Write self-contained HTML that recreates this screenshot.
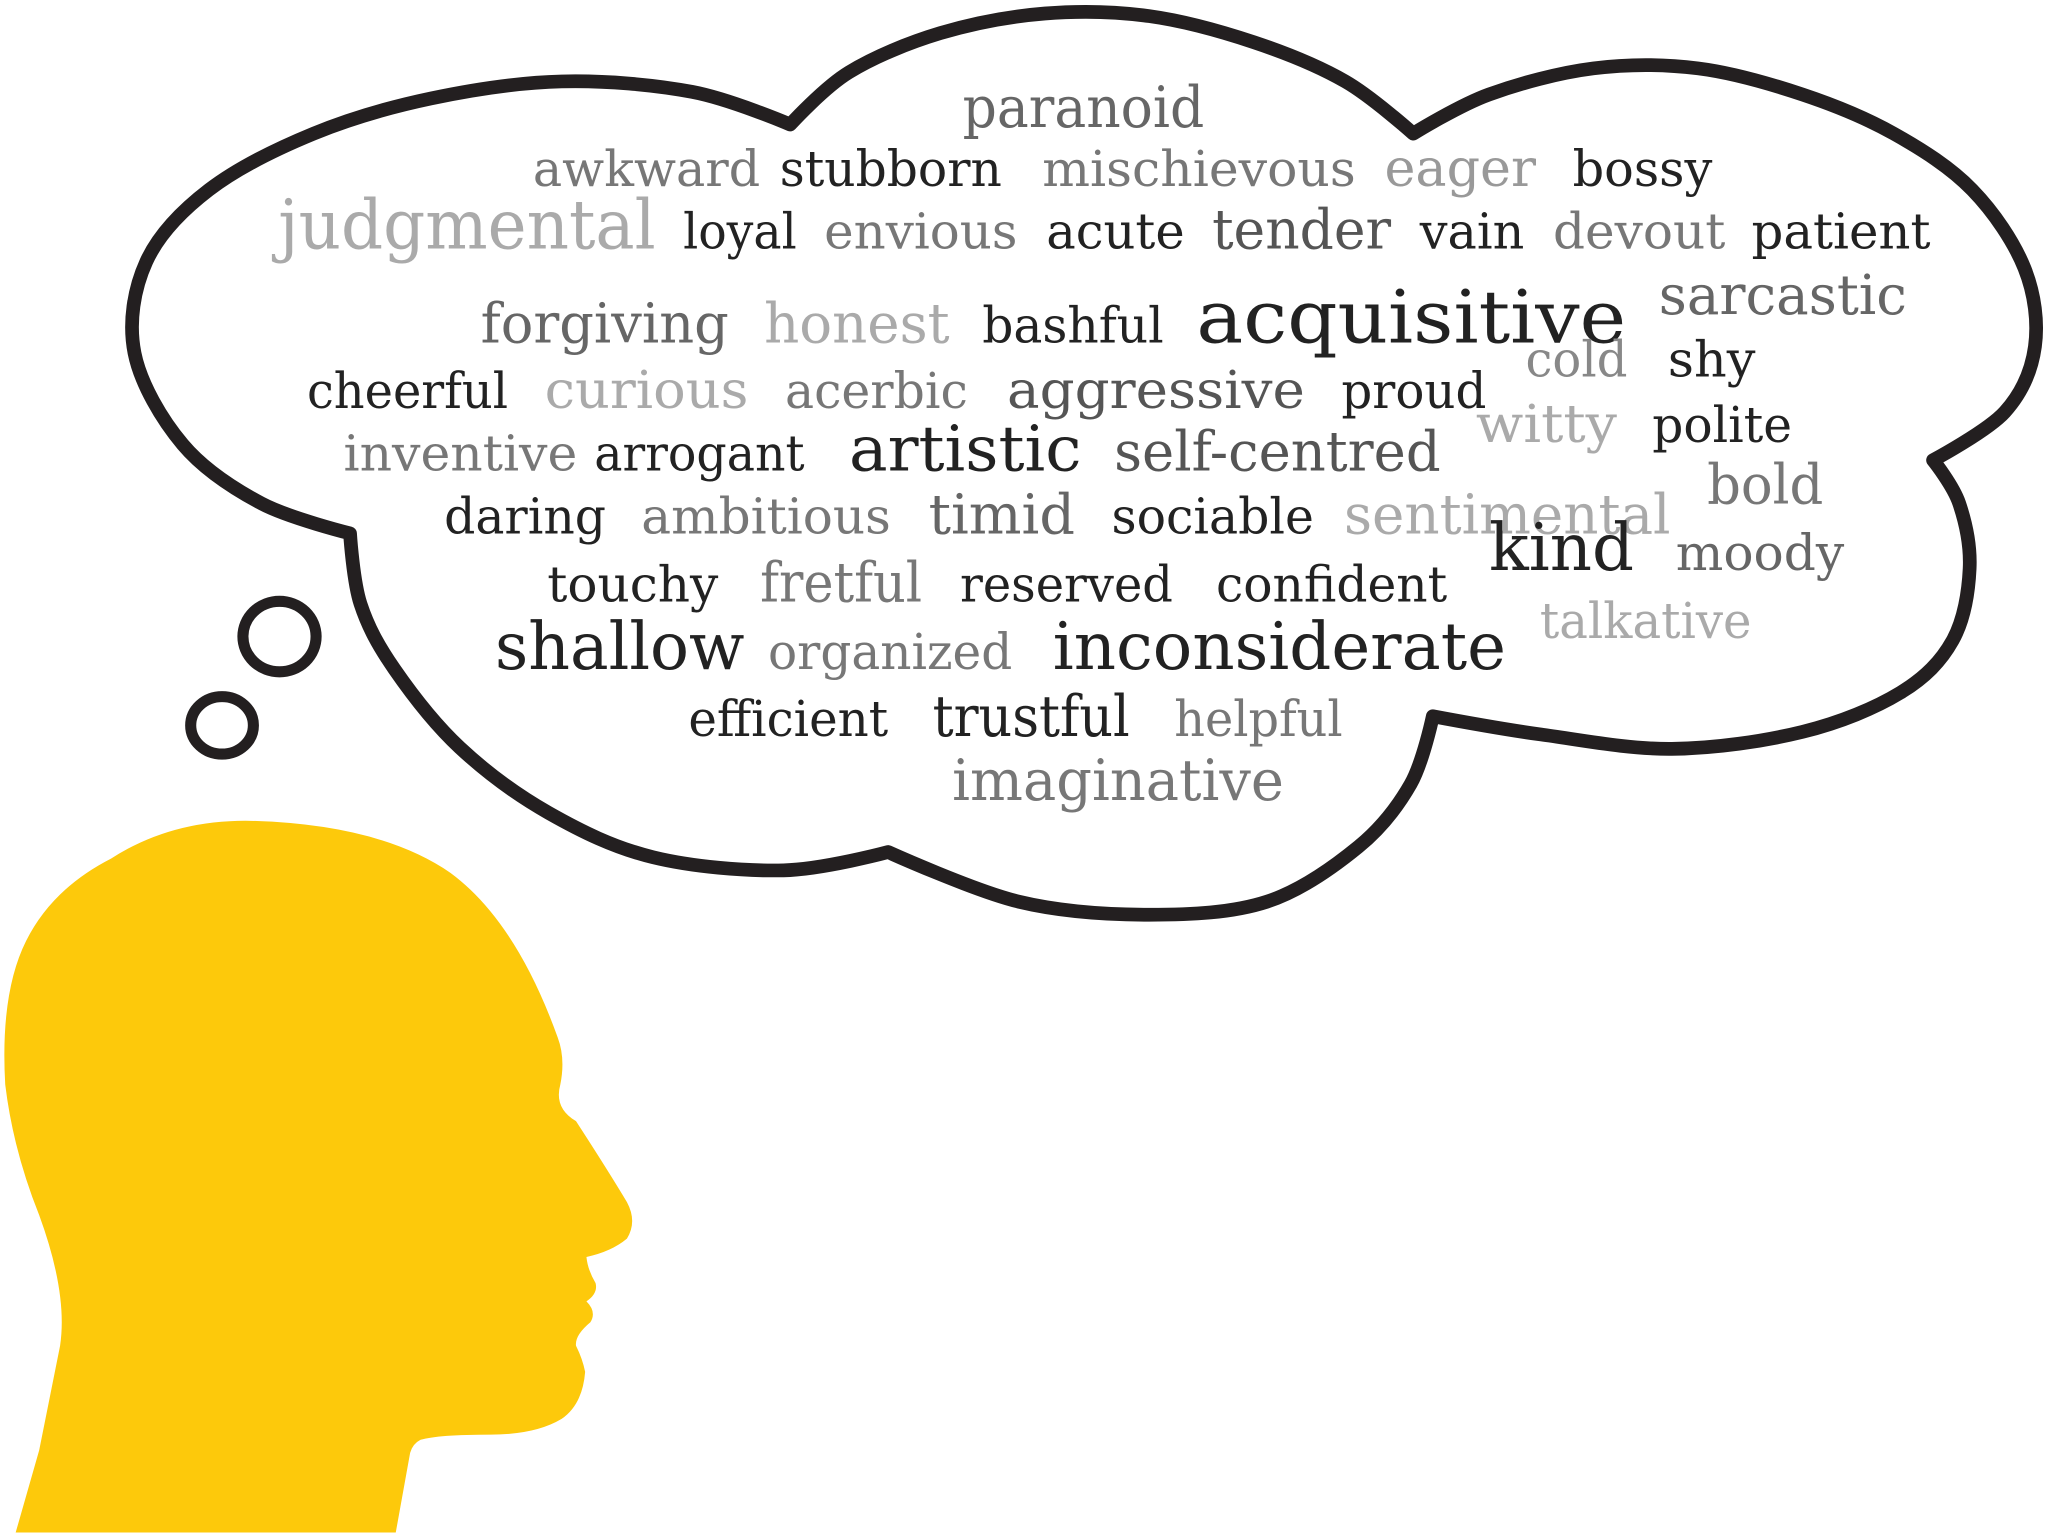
<!DOCTYPE html>
<html><head><meta charset="utf-8"><title>Personality word cloud</title>
<style>
html,body{margin:0;padding:0;background:#fff;}
svg{display:block;}
text{font-family:"DejaVu Serif","Liberation Serif",serif;}
</style></head>
<body>
<svg id="fig" width="2048" height="1533" viewBox="0 0 1568 1173" xmlns="http://www.w3.org/2000/svg">
  <path fill="#FDC90B"
    d="M12,1173 L30,1110 L46,1030 Q52,990 30,930 Q10,880 4,830 Q0,760 20,720 Q40,680 85,657 Q130,628 188,628 Q290,630 345,668 Q395,705 427,794 Q433,810 429,830 Q424,848 441,858 Q465,895 480,920 Q488,935 480,948 Q468,958 449,962 Q450,972 456,982 Q458,990 449,996 Q457,1004 452,1012 Q440,1022 441,1030 Q446,1040 448,1050 Q446,1075 430,1086 Q410,1098 376,1098 Q335,1098 322,1102 Q316,1105 314,1112 L303,1173 Z"/>
  <path id="cloud" fill="#fff" stroke="#231f20" stroke-width="10.5" stroke-linejoin="round"/>
  <ellipse cx="214" cy="487" rx="28" ry="27" fill="#fff" stroke="#231f20" stroke-width="8.5"/>
  <ellipse cx="170" cy="555" rx="24" ry="22" fill="#fff" stroke="#231f20" stroke-width="8.5"/>
  <g id="words"></g>
</svg>
<script>
// word cloud data
const words = ["paranoid","awkward","stubborn","mischievous","eager","bossy","judgmental","loyal","envious","acute","tender","vain","devout","patient","forgiving","honest","bashful","acquisitive","sarcastic","cold","shy","cheerful","curious","acerbic","aggressive","proud","witty","polite","inventive","arrogant","artistic","self-centred","bold","daring","ambitious","timid","sociable","sentimental","kind","moody","touchy","fretful","reserved","confident","talkative","shallow","organized","inconsiderate","efficient","trustful","helpful","imaginative"];
const sizes = [44,38,38,38,40,38,52,38,38,38,42,38,38,38,42,42,38,56,42,38,38,38,40,38,40,38,40,38,38,38,48,42,42,38,38,42,38,42,50,38,38,42,38,38,38,50,38,50,38,44,38,44];
const shades = ["#666","#777","#222","#777","#999","#222","#aaa","#222","#777","#222","#555","#222","#777","#222","#666","#aaa","#222","#222","#666","#888","#222","#222","#aaa","#777","#555","#222","#aaa","#222","#777","#222","#222","#555","#777","#222","#777","#666","#222","#aaa","#222","#666","#222","#777","#222","#222","#aaa","#222","#777","#222","#222","#222","#777","#777"];
// layout boxes: left, right, baseline
const lefts = [737,408,597,798,1060,1204,213,523,631,801,928,1087,1189,1341,368,585,752,916,1270,1168,1277,235,417,601,771,1027,1130,1265,263,455,650,853,1307,340,491,711,851,1029,1140,1283,419,582,735,931,1179,379,588,806,527,714,899,729];
const rights = [922,582,767,1038,1176,1311,502,610,779,907,1065,1167,1321,1478,558,727,891,1245,1460,1246,1344,389,573,741,999,1138,1238,1372,442,616,828,1103,1396,464,682,823,1006,1279,1251,1412,550,706,898,1108,1341,570,775,1153,680,865,1028,983];
const bases = [97,142,142,142,142,142,190,190,190,190,190,190,190,190,262,262,262,262,240,288,288,312,312,312,312,312,338,338,360,360,360,360,385,408,408,408,408,408,436,436,460,460,460,460,488,512,512,512,563,563,563,612];

const NS="http://www.w3.org/2000/svg";
const g=document.getElementById('words');
words.forEach((w,i)=>{
  const t=document.createElementNS(NS,'text');
  
  
  t.setAttribute('x',lefts[i]);
  t.setAttribute('y',bases[i]);
  t.setAttribute('font-size',sizes[i]);
  t.setAttribute('font-weight','300');
  t.setAttribute('fill',shades[i]);
  t.setAttribute('textLength',rights[i]-lefts[i]);
  t.setAttribute('lengthAdjust','spacingAndGlyphs');
  t.textContent=w;
  g.appendChild(t);
});

// cloud outline via Catmull-Rom
const pts=[[268,408],[200,385],[140,340],[103,270],[112,200],[160,145],[240,102],[330,75],[430,62],[530,70],[605,95],
[650,55],[720,25],[800,10],[880,12],[960,32],[1030,62],[1082,102],
[1140,72],[1220,52],[1300,52],[1380,72],[1450,102],[1510,145],[1550,205],[1558,265],[1535,315],[1480,352],
[1500,385],[1508,435],[1495,490],[1455,530],[1380,560],[1280,573],[1180,562],[1097,548],
[1080,600],[1040,648],[970,690],[880,700],[780,690],[680,652],
[600,666],[500,656],[420,622],[352,572],[302,512],[276,462]];
function cr(p){let d=`M${p[0][0]},${p[0][1]}`;const n=p.length;
 const cusps=[0,10,17,27,35,41];
 for(let i=0;i<n;i++){const p0=p[(i-1+n)%n],p1=p[i],p2=p[(i+1)%n],p3=p[(i+2)%n];
  const t1=cusps.includes(i)?0:1/6,t2=cusps.includes((i+1)%n)?0:1/6;
  d+=` C${p1[0]+(p2[0]-p0[0])*t1},${p1[1]+(p2[1]-p0[1])*t1} ${p2[0]-(p3[0]-p1[0])*t2},${p2[1]-(p3[1]-p1[1])*t2} ${p2[0]},${p2[1]}`;}
 return d+'Z';}
document.getElementById('cloud').setAttribute('d',cr(pts));
</script>
</body></html>
